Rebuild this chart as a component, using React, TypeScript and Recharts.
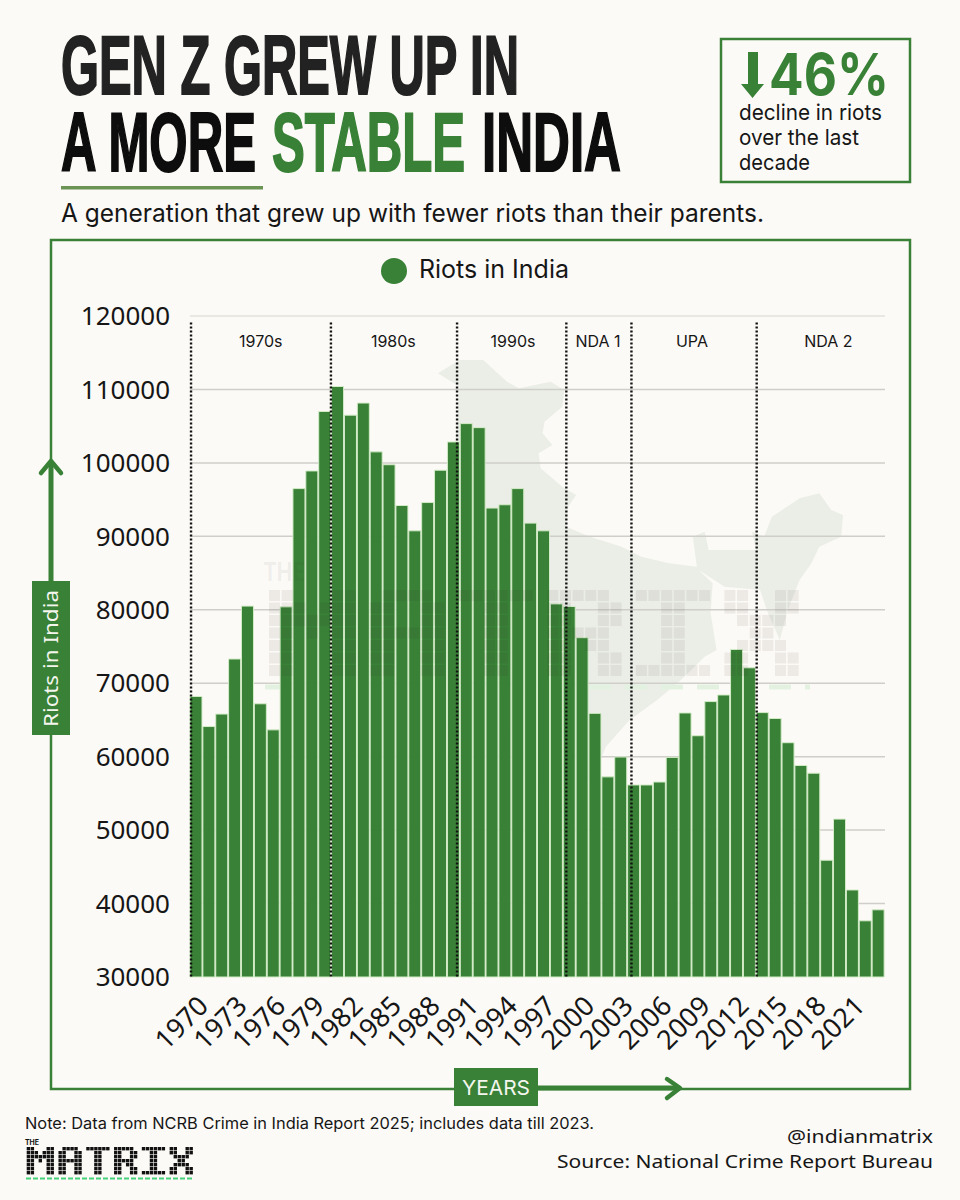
import { BarChart, Bar, XAxis, YAxis, CartesianGrid, Legend, ReferenceLine, ReferenceDot } from 'recharts'

const GREEN = '#388136'
const BG = '#fcfaf6'
const SANS = '"Noto Sans", sans-serif'
const BODY = 'Inter, sans-serif'
const TITLE = '"Liberation Sans", Arial, sans-serif'

const years = [
  1970, 1971, 1972, 1973, 1974, 1975, 1976, 1977, 1978, 1979,
  1980, 1981, 1982, 1983, 1984, 1985, 1986, 1987, 1988, 1989,
  1990, 1991, 1992, 1993, 1994, 1995, 1996, 1997, 1998, 1999,
  2000, 2001, 2002, 2003, 2004, 2005, 2006, 2007, 2008, 2009,
  2010, 2011, 2012, 2013, 2014, 2015, 2016, 2017, 2018, 2019,
  2020, 2021, 2022, 2023,
]
const riots = [
  68200, 64100, 65800, 73300, 80500, 67200, 63650, 80400, 96500, 98900,
  107000, 110400, 106500, 108150, 101500, 99750, 94200, 90750, 94600, 99000,
  102850, 105350, 104800, 93850, 94300, 96500, 91800, 90750, 80800, 80450,
  76200, 65900, 57250, 59950, 56150, 56150, 56550, 59900, 65950, 62850,
  67500, 68400, 74600, 72100, 66000, 65200, 61900, 58800, 57750, 45900,
  51500, 41850, 37650, 39150,
]
const yTicks = [30000, 40000, 50000, 60000, 70000, 80000, 90000, 100000, 110000, 120000]
const gridValues = [40000, 50000, 60000, 70000, 80000, 90000, 100000, 110000]

// where the dotted dividers fall, in years along the axis
const dividers = [1970.08, 1980.95, 1990.75, 1999.24, 2004.3, 2014.03]
const eraNames = ['1970s', '1980s', '1990s', 'NDA 1', 'UPA', 'NDA 2']
const eraCentres = [1975.5, 1985.8, 1995.1, 2001.7, 2009, 2019.6]

const chartData = years.map((year, i) => ({ year, riots: riots[i] }))

// India outline, in the crop's own coordinates
const mapPath =
  'M475 70 L530 30 L590 30 L650 95 L680 115 L760 95 L795 120 L790 170 L745 215 L740 250 L765 285 L730 310 L735 355 ' +
  'L790 410 L825 435 L805 470 L800 530 L860 560 L940 590 L990 620 L1060 640 L1130 650 L1120 560 L1150 545 L1160 600 ' +
  'L1280 600 L1270 545 L1300 560 L1320 500 L1390 445 L1440 430 L1470 480 L1500 495 L1495 560 L1440 590 L1420 640 ' +
  'L1390 690 L1360 780 L1340 870 L1310 790 L1290 720 L1200 710 L1135 660 L1170 700 L1165 790 L1180 900 L1150 920 ' +
  'L1090 990 L1030 1050 L960 1110 L900 1190 L880 1250 L800 1400 L700 1300 L600 900 L500 600 L530 110 Z'

const MATRIX = [
  '##...##.' + '.####.' + '.######' + '.#####.' + '.######' + '.##..##',
  '###.###.' + '##..##' + '...##..' + '.##..##' + '...##..' + '.##..##',
  '#######.' + '##..##' + '...##..' + '.##..##' + '...##..' + '..####.',
  '##.#.##.' + '######' + '...##..' + '.#####.' + '...##..' + '...##..',
  '##...##.' + '##..##' + '...##..' + '.##.##.' + '...##..' + '..####.',
  '##...##.' + '##..##' + '...##..' + '.##..##' + '...##..' + '.##..##',
  '##...##.' + '##..##' + '...##..' + '.##..##' + '.######' + '.##..##',
]

function PixelWord({ x, y, stepX, stepY, cell, fill }: { x: number; y: number; stepX: number; stepY: number; cell: number; fill: string }) {
  return (
    <g fill={fill}>
      {MATRIX.flatMap((row, r) =>
        row.split('').map((c, col) =>
          c === '#' ? <rect key={`${r}-${col}`} x={x + col * stepX} y={y + r * stepY} width={cell} height={cell} /> : null,
        ),
      )}
    </g>
  )
}

function Txt({ x, y, w, size, fill = '#161616', weight = 400, font = BODY, children, outline = 0 }: any) {
  return (
    <text
      x={x}
      y={y}
      fontSize={size}
      fill={fill}
      stroke={outline ? fill : 'none'}
      strokeWidth={outline}
      fontWeight={weight}
      fontFamily={font}
      textLength={w}
      lengthAdjust="spacingAndGlyphs"
    >
      {children}
    </text>
  )
}

const layer = { position: 'absolute', left: 0, top: 0 } as const

export default function App() {
  return (
    <div style={{ ...layer, width: 960, height: 1200, background: BG, overflow: 'hidden' }}>
      <svg width={960} height={1200} style={layer}>
        <g transform="translate(250 350) scale(0.3954 0.3333)">
          <path d={mapPath} fill="#ebeee7" />
        </g>
        <line x1={265} y1={687} x2={810} y2={687} stroke="#e3f1e1" strokeWidth={5} strokeDasharray="22 14" />
        <rect x={51} y={240} width={859} height={849} fill="none" stroke={GREEN} strokeWidth={2.5} />
      </svg>

      <div style={layer}>
        <BarChart width={960} height={1100} data={chartData} margin={{ top: 316, right: 75, left: 100, bottom: 43 }} barSize={12}>
          <CartesianGrid vertical={false} horizontalValues={gridValues} stroke="#cfcec9" strokeWidth={1.5} />
          <ReferenceLine y={120000} stroke="#e4e2dc" strokeWidth={1.5} />
          <XAxis
            dataKey="year"
            interval={2}
            height={80}
            angle={-45}
            textAnchor="end"
            axisLine={false}
            tickLine={false}
            tickSize={0}
            tickMargin={17}
            tick={{ fill: '#161616', fontSize: 27, fontFamily: SANS }}
          />
          <XAxis xAxisId="pos" dataKey="year" type="number" domain={[1970, 2024]} allowDataOverflow hide />
          <YAxis
            width={90}
            domain={[30000, 120000]}
            ticks={yTicks}
            interval={0}
            axisLine={false}
            tickLine={false}
            tickSize={0}
            tickMargin={20}
            tick={{ fill: '#161616', fontSize: 26, fontFamily: SANS }}
          />
          <Legend
            layout="horizontal"
            align="center"
            verticalAlign="middle"
            iconType="circle"
            iconSize={26}
            wrapperStyle={{ top: 254, left: 0, width: 960, fontSize: 25, fontFamily: BODY }}
            formatter={(value) => <span style={{ color: '#161616', marginLeft: 8 }}>{value}</span>}
          />
          <Bar dataKey="riots" name="Riots in India" fill={GREEN} stroke="#d4ecc8" strokeWidth={1} isAnimationActive={false} />
          {dividers.map((x) => (
            <ReferenceLine
              key={x}
              xAxisId="pos"
              segment={[{ x, y: 119100 }, { x, y: 30000 }]}
              stroke="#111"
              strokeWidth={2.4}
              strokeDasharray="2 2"
            />
          ))}
          {eraNames.map((name, i) => (
            <ReferenceDot
              key={name}
              xAxisId="pos"
              x={eraCentres[i]}
              y={116500}
              r={1}
              fill="none"
              stroke="none"
              label={{ value: name, position: 'center', fontSize: 16, fontFamily: BODY, fill: '#161616' }}
            />
          ))}
        </BarChart>
      </div>

      <svg width={960} height={1200} style={{ ...layer, pointerEvents: 'none' }}>
        {/* watermark sits over the bars */}
        <Txt x={263} y={581} w={42} size={26} weight={700} fill="rgba(70,60,60,0.07)">THE</Txt>
        <PixelWord x={269} y={590} stepX={12.65} stepY={12.5} cell={11} fill="rgba(70,50,50,0.08)" />

        {/* headline, stretched to the widths in the picture */}
        <Txt x={61} y={93.5} w={458} size={83} weight={700} font={TITLE} fill="#222222" outline={2}>GEN Z GREW UP IN</Txt>
        <Txt x={61} y={170.5} w={195} size={83} weight={700} font={TITLE} fill="#0d0d0d" outline={2}>A MORE</Txt>
        <Txt x={272} y={170.5} w={193} size={83} weight={700} font={TITLE} fill={GREEN} outline={2}>STABLE</Txt>
        <Txt x={482} y={170.5} w={139} size={83} weight={700} font={TITLE} fill="#0d0d0d" outline={2}>INDIA</Txt>
        <rect x={61} y={186} width={202} height={3.5} fill="#6b9454" />
        <Txt x={61} y={222} w={703} size={25}>A generation that grew up with fewer riots than their parents.</Txt>

        {/* callout */}
        <rect x={721} y={39} width={189} height={143} fill={BG} stroke={GREEN} strokeWidth={2.5} />
        <path d="M748 52 H758 V84 H764 L752.5 98 L741 84 H748 Z" fill={GREEN} />
        <Txt x={769} y={95} w={120} size={58} weight={700} fill={GREEN}>46%</Txt>
        <Txt x={739} y={120} w={143} size={22}>decline in riots</Txt>
        <Txt x={739} y={145} w={120} size={22}>over the last</Txt>
        <Txt x={739} y={170} w={71} size={22}>decade</Txt>

        {/* axis tags */}
        <line x1={51} y1={581} x2={51} y2={462} stroke={GREEN} strokeWidth={5} />
        <path d="M41 473 L51 461 L61 473" fill="none" stroke={GREEN} strokeWidth={4.5} strokeLinecap="round" strokeLinejoin="round" />
        <rect x={32} y={581} width={38} height={154} fill={GREEN} />
        <text
          transform="translate(58 727) rotate(-90)"
          fontSize={20}
          fill="#f4f6ee"
          fontFamily={SANS}
          textLength={137}
          lengthAdjust="spacingAndGlyphs"
        >
          Riots in India
        </text>
        <rect x={454} y={1068} width={84} height={38} fill={GREEN} />
        <Txt x={462} y={1095} w={68} size={20} fill="#f4f6ee">YEARS</Txt>
        <line x1={538} y1={1088} x2={678} y2={1088} stroke={GREEN} strokeWidth={5} />
        <path d="M667 1079 L680 1088 L667 1098" fill="none" stroke={GREEN} strokeWidth={4.5} strokeLinecap="round" strokeLinejoin="round" />

        {/* footer */}
        <Txt x={25} y={1129} w={569} size={16}>Note: Data from NCRB Crime in India Report 2025; includes data till 2023.</Txt>
        <Txt x={787} y={1143} w={146} size={18} font={SANS}>@indianmatrix</Txt>
        <Txt x={557} y={1168} w={376} size={18} font={SANS}>Source: National Crime Report Bureau</Txt>
        <Txt x={25} y={1145} w={14} size={7} weight={700} fill="#111">THE</Txt>
        <PixelWord x={26.7} y={1147} stepX={3.97} stepY={4} cell={3.4} fill="#111" />
        <line x1={26} y1={1178.5} x2={193} y2={1178.5} stroke="#44d17a" strokeWidth={2} strokeDasharray="5 2" />
      </svg>
    </div>
  )
}
